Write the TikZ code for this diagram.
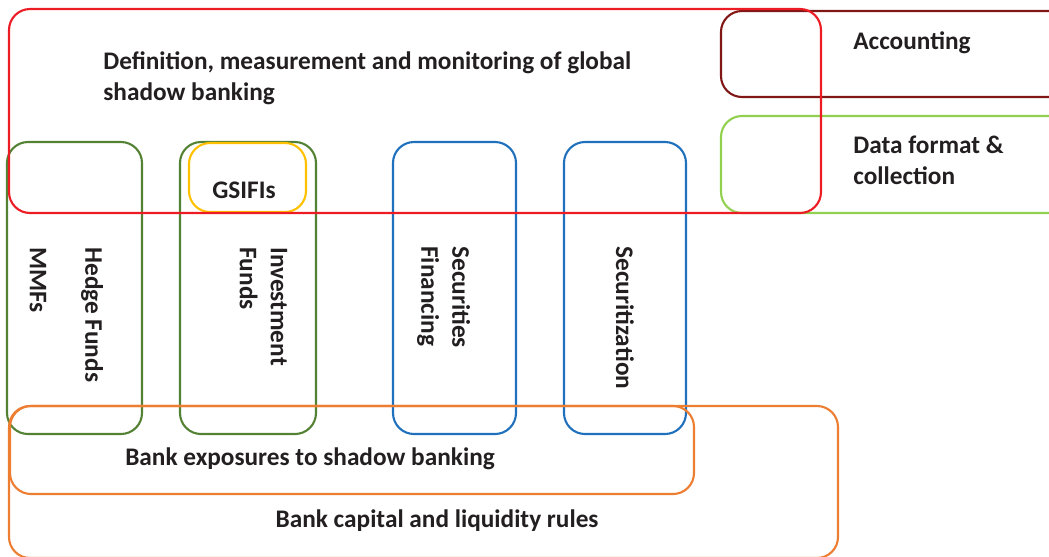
\documentclass[tikz,border=0pt]{standalone}
\usepackage{fontspec}
\setmainfont{Carlito}
\definecolor{defred}{RGB}{237,28,36}
\definecolor{acctred}{RGB}{128,22,22}
\definecolor{datagreen}{RGB}{146,208,80}
\definecolor{fundgreen}{RGB}{84,130,53}
\definecolor{gsyellow}{RGB}{255,192,0}
\definecolor{secblue}{RGB}{31,113,189}
\definecolor{bankorange}{RGB}{237,125,49}
\definecolor{txt}{RGB}{35,31,32}

\begin{document}
\begin{tikzpicture}[x=0.02cm, y=-0.02cm,
    box/.style={line width=1.2pt, rounded corners=0.42cm},
    lbl/.style={inner sep=0, text=txt, font=\fontsize{14.4}{17.6}\selectfont\bfseries, align=left},
    vlbl/.style={lbl, rotate=-90, anchor=west}]
    \useasboundingbox (0, 0) rectangle (1049, 556);

    \draw[box, acctred] (721, 11) rectangle (1080, 97);
    \draw[box, datagreen] (721, 116) rectangle (1080, 213);

    \draw[box, fundgreen] (7, 142) rectangle (142, 434);
    \draw[box, fundgreen] (180, 142) rectangle (316, 434);
    \draw[box, gsyellow] (189, 143) rectangle (306, 212);

    \draw[box, secblue] (393, 142) rectangle (516, 434);
    \draw[box, secblue] (564, 142) rectangle (686, 434);

    \draw[box, defred] (9, 9) rectangle (821, 213);
    \draw[box, bankorange] (10, 406) rectangle (694, 494);
    \draw[box, bankorange] (9, 406) rectangle (838, 558);

    \node[lbl, anchor=west] (defn) at (103, 78.5) {Definition, measurement and monitoring of global\\shadow banking};
    \node[lbl, anchor=west] (acct) at (853, 43) {Accounting};
    \node[lbl, anchor=west] (data) at (853, 160.5) {Data format \&\\collection};
    \node[lbl] (gsifis) at (244, 190) {GSIFIs};

    \node[vlbl] (mmfs) at (38, 247) {MMFs};
    \node[vlbl] (hedge) at (92, 247) {Hedge Funds};
    \node[vlbl] (invest) at (263.5, 247) {Investment\\Funds};
    \node[vlbl] (secfin) at (443.6, 246) {Securities\\Financing};
    \node[vlbl] (secur) at (625, 246) {Securitization};

    \node[lbl] (expo) at (310, 459) {Bank exposures to shadow banking};
    \node[lbl] (capital) at (437, 521) {Bank capital and liquidity rules};
\end{tikzpicture}
\end{document}
